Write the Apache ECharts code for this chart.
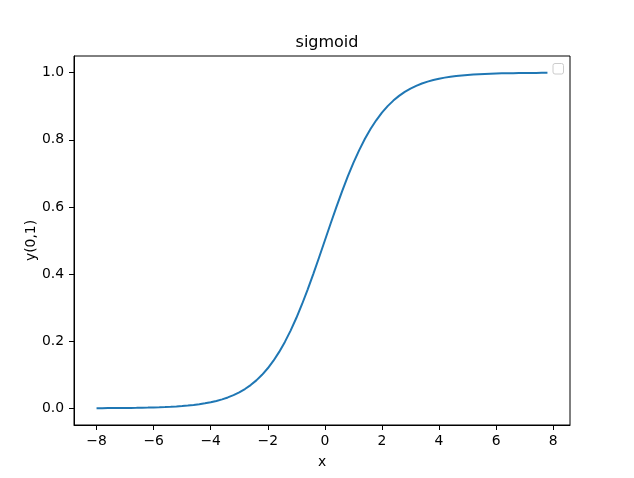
<!DOCTYPE html>
<html>
<head>
<meta charset="utf-8">
<script src="https://cdn.jsdelivr.net/npm/echarts@6/dist/echarts.min.js"></script>
<style>html,body{margin:0;padding:0;background:#fff}#c{width:634px;height:478px}</style>
</head>
<body>
<div id="c"></div>
<script>
const titleText = 'sigmoid';
const xName = 'x';
const yName = 'y(0,1)';
const xTicks = [-8, -6, -4, -2, 0, 2, 4, 6, 8];
const yTicks = [0.0, 0.2, 0.4, 0.6, 0.8, 1.0];
const xValues = [-8.0,-7.8,-7.6,-7.4,-7.2,-7.0,-6.8,-6.6,-6.4,-6.2,-6.0,-5.8,-5.6,-5.4,-5.2,-5.0,-4.8,-4.6,-4.4,-4.2,-4.0,-3.8,-3.6,-3.4,-3.2,-3.0,-2.8,-2.6,-2.4,-2.2,-2.0,-1.8,-1.6,-1.4,-1.2,-1.0,-0.8,-0.6,-0.4,-0.2,0.0,0.2,0.4,0.6,0.8,1.0,1.2,1.4,1.6,1.8,2.0,2.2,2.4,2.6,2.8,3.0,3.2,3.4,3.6,3.8,4.0,4.2,4.4,4.6,4.8,5.0,5.2,5.4,5.6,5.8,6.0,6.2,6.4,6.6,6.8,7.0,7.2,7.4,7.6,7.8];
const yValues = [0.00034,0.00041,0.00050,0.00061,0.00075,0.00091,0.00111,0.00136,0.00166,0.00203,0.00247,0.00302,0.00368,0.00450,0.00549,0.00669,0.00816,0.00995,0.01213,0.01477,0.01799,0.02188,0.02660,0.03230,0.03917,0.04743,0.05732,0.06914,0.08317,0.09975,0.11920,0.14185,0.16798,0.19782,0.23148,0.26894,0.31003,0.35434,0.40131,0.45017,0.50000,0.54983,0.59869,0.64566,0.68997,0.73106,0.76852,0.80218,0.83202,0.85815,0.88080,0.90025,0.91683,0.93086,0.94268,0.95257,0.96083,0.96770,0.97340,0.97812,0.98201,0.98523,0.98787,0.99005,0.99184,0.99331,0.99451,0.99550,0.99632,0.99698,0.99753,0.99797,0.99834,0.99864,0.99889,0.99909,0.99925,0.99939,0.99950,0.99959];

const font = 'DejaVu Sans';
const chart = echarts.init(document.getElementById('c'), null, {renderer: 'canvas'});
const pairs = xValues.map((x, i) => [x, yValues[i]]);
const xMin = -8.79, xMax = 8.59;
const yMin = -0.0498, yMax = 1.0497;
chart.setOption({
  animation: false,
  backgroundColor: '#ffffff',
  textStyle: {fontFamily: font},
  title: {
    text: titleText, left: 322, top: 30, textAlign: 'center',
    textStyle: {fontFamily: font, fontSize: 16, fontWeight: 'normal', color: '#000'}
  },
  grid: {left: 74, right: 64, top: 56, bottom: 53, show: true, borderColor: '#000', borderWidth: 1, backgroundColor: 'transparent'},
  xAxis: {
    type: 'value', min: xMin, max: xMax,
    name: xName, nameLocation: 'middle', nameGap: 30, nameMoveOverlap: false,
    nameTextStyle: {fontFamily: font, fontSize: 13.9, color: '#000'},
    axisLine: {show: true, onZero: false, lineStyle: {color: '#000', width: 1}},
    axisTick: {show: true, length: 5, lineStyle: {color: '#000', width: 1}, customValues: xTicks},
    axisLabel: {show: true, margin: 9, fontFamily: font, fontSize: 13.9, color: '#000', customValues: xTicks,
      formatter: v => (v < 0 ? '\u2212' + Math.abs(v) : String(v))},
    splitLine: {show: false}
  },
  yAxis: {
    type: 'value', min: yMin, max: yMax,
    name: yName, nameLocation: 'middle', nameGap: 36, nameRotate: 90, nameMoveOverlap: false,
    nameTextStyle: {fontFamily: font, fontSize: 13.9, color: '#000'},
    axisLine: {show: true, onZero: false, lineStyle: {color: '#000', width: 1}},
    axisTick: {show: true, length: 5, lineStyle: {color: '#000', width: 1}, customValues: yTicks},
    axisLabel: {show: true, margin: 10, fontFamily: font, fontSize: 13.9, color: '#000', customValues: yTicks,
      formatter: v => v.toFixed(1)},
    splitLine: {show: false}
  },
  series: [{
    type: 'line', data: pairs, showSymbol: false, smooth: false,
    lineStyle: {color: '#1f77b4', width: 2}, itemStyle: {color: '#1f77b4'}
  }],
  graphic: [{
    type: 'rect', shape: {x: 553, y: 63.5, width: 10.5, height: 10.5, r: 2},
    style: {fill: '#ffffff', stroke: '#cccccc', lineWidth: 1}
  }]
});
</script>
</body>
</html>
